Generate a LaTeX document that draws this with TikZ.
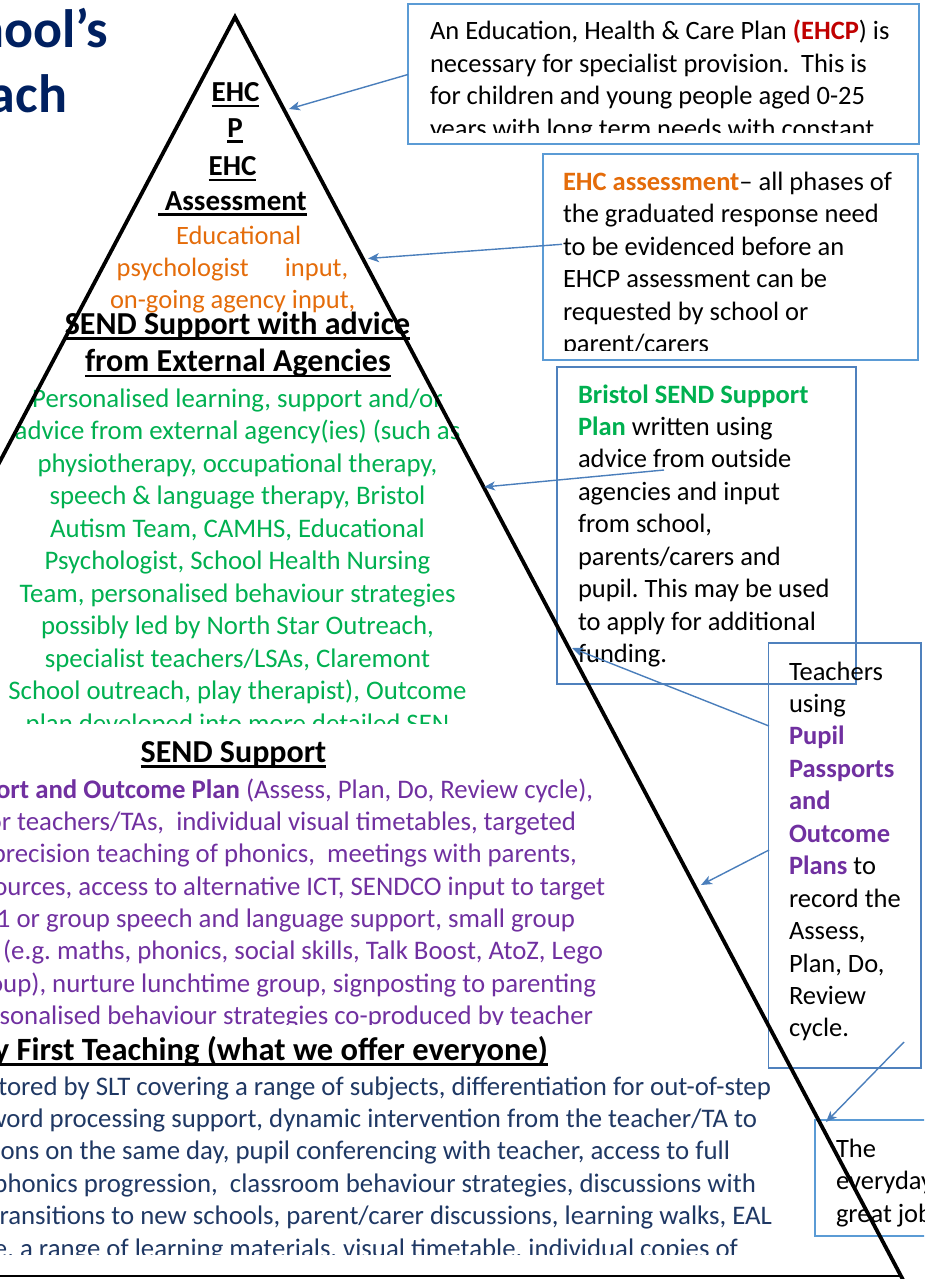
\documentclass[tikz,border=0pt]{standalone}
\usepackage{fontspec}
\setmainfont{Carlito}
\usetikzlibrary{arrows.meta}
\definecolor{navy}{HTML}{002060}
\definecolor{bodyblue}{HTML}{1F3864}
\definecolor{sgreen}{HTML}{00B050}
\definecolor{sorange}{HTML}{E46C0A}
\definecolor{spurple}{HTML}{7030A0}
\definecolor{sred}{HTML}{C00000}
\definecolor{boxblue}{HTML}{5B9BD5}
\definecolor{boxbluedk}{HTML}{4F81BD}
\definecolor{arrowblue}{HTML}{4A7EBB}
\newcommand\ulx[1]{\setbox0\hbox{#1}\rlap{\rule[-5.5pt]{\wd0}{2.4pt}}\box0}
\frenchspacing
\begin{document}
\begin{tikzpicture}[x=1pt,y=-1pt,
  txt/.style={inner sep=0pt,outer sep=0pt,font=\fontsize{26.5}{32.5}\selectfont},
  txtt/.style={inner sep=0pt,outer sep=0pt,font=\fontsize{26.8}{32.5}\selectfont},
  headbig/.style={inner sep=0pt,outer sep=0pt,font=\fontsize{32}{39}\selectfont\bfseries},
  headsm/.style={inner sep=0pt,outer sep=0pt,font=\fontsize{29}{35}\selectfont\bfseries},
  titletxt/.style={inner sep=0pt,outer sep=0pt,font=\fontsize{54}{64}\selectfont\bfseries,text=navy},
  tbox/.style={draw=boxblue,line width=1.6pt,inner sep=0pt,outer sep=0pt,anchor=north west},
  tboxdk/.style={draw=boxbluedk,line width=1.6pt,inner sep=0pt,outer sep=0pt,anchor=north west},
  conn/.style={draw=arrowblue,line width=1.4pt,-{Stealth[length=11pt,width=9pt,inset=3pt]}},
  pyr/.style={line width=3.8pt,line join=miter,line cap=butt}]
\useasboundingbox (0,0) rectangle (924,1279);
\clip (0,0) rectangle (924,1279);

% title fragments
\node[titletxt,anchor=base east] (t1) at (108,48) {School’s};
\node[titletxt,anchor=base east] (t2) at (67,113) {Approach};

% apex headings
\node[headsm,anchor=base] (h1) at (235.5,101.7) {\ulx{EHC}};
\node[headsm,anchor=base] (h2) at (235,137) {\ulx{P}};
\node[headsm,anchor=base] (h3) at (232.5,175.7) {\ulx{EHC}};
\node[headsm,anchor=base] (h4) at (232.5,210) {\ulx{\ Assessment}};

% orange text
\node[txt,text=sorange,anchor=base west] (o1) at (176,244) {Educational};
\node[txt,text=sorange,anchor=base west] (o2) at (116.7,276.7) {\hbox to 231.6pt{psychologist\hfill input,}};
\node[txt,text=sorange,anchor=base west] (o3) at (110,308.3) {on-going agency input,};

% SEND support with advice
\node[headbig,anchor=base] (s1) at (237.5,334) {\ulx{SEND Support with advice}};
\node[headbig,anchor=base] (s2) at (238,371.7) {\ulx{from External Agencies}};

\begin{scope}
\clip (0,380) rectangle (520,723);
\foreach \t [count=\i from 0] in {{Personalised learning, support and/or},{advice from external agency(ies) (such as},{physiotherapy, occupational therapy,},{speech \& language therapy, Bristol},{Autism Team, CAMHS, Educational},{Psychologist, School Health Nursing},{Team, personalised behaviour strategies},{possibly led by North Star Outreach,},{specialist teachers/LSAs, Claremont},{School outreach, play therapist), Outcome},{plan developed into more detailed SEN}}
  \node[txtt,text=sgreen,anchor=base] (g\i) at (237.5,{407+32.5*\i}) {\t};
\end{scope}

% SEND support
\node[headbig,anchor=base] (s3) at (233.5,762) {\ulx{SEND Support}};
\begin{scope}
\clip (0,770) rectangle (650,1024);
\node[txtt,text=spurple,anchor=base east] (p1) at (593,798) {\textbf{Pupil Passport and Outcome Plan} (Assess, Plan, Do, Review cycle),};
\node[txtt,text=spurple,anchor=base east] (p2) at (576,830.4) {for teachers/TAs,\ \ individual visual timetables, targeted};
\node[txtt,text=spurple,anchor=base east] (p3) at (577,862.7) {precision teaching of phonics,\ \ meetings with parents,};
\node[txtt,text=spurple,anchor=base east] (p4) at (605,895) {resources, access to alternative ICT, SENDCO input to target};
\node[txtt,text=spurple,anchor=base east] (p5) at (575,927.4) {\hspace*{20pt}1 or group speech and language support, small group};
\node[txtt,text=spurple,anchor=base east] (p6) at (603,959.8) {intervention (e.g. maths, phonics, social skills, Talk Boost, AtoZ, Lego};
\node[txtt,text=spurple,anchor=base east] (p7) at (596,992.1) {group), nurture lunchtime group, signposting to parenting};
\node[txtt,text=spurple,anchor=base east] (p8) at (593,1024.5) {personalised behaviour strategies co-produced by teacher};
\end{scope}

% Quality first teaching
\node[headbig,font=\fontsize{32.5}{39}\selectfont\bfseries,anchor=base east] (q0) at (548,1060) {\ulx{Quality First Teaching (what we offer everyone)}};
\begin{scope}
\clip (0,1070) rectangle (800,1254);
\node[txtt,text=bodyblue,anchor=base east] (q1) at (771,1095) {monitored by SLT covering a range of subjects, differentiation for out-of-step};
\node[txtt,text=bodyblue,anchor=base east] (q2) at (757,1127.4) {word processing support, dynamic intervention from the teacher/TA to};
\node[txtt,text=bodyblue,anchor=base east] (q3) at (730,1159.8) {sessions on the same day, pupil conferencing with teacher, access to full};
\node[txtt,text=bodyblue,anchor=base east] (q4) at (756,1192.2) {phonics progression,\ \ classroom behaviour strategies, discussions with};
\node[txtt,text=bodyblue,anchor=base east] (q5) at (772,1224.6) {transitions to new schools, parent/carer discussions, learning walks, EAL};
\node[txtt,text=bodyblue,anchor=base east] (q6) at (738,1257) {provide, a range of learning materials, visual timetable, individual copies of};
\end{scope}

% Box 1
\node[tbox,minimum width=511pt,minimum height=140pt] (b1) at (408,4) {};
\begin{scope}
\clip (409,5) rectangle (918,133);
\node[txt,anchor=base west] (b1l1) at (430,40) {An Education, Health \& Care Plan \textcolor{sred}{\textbf{(EHCP}}) is};
\node[txt,anchor=base west] (b1l2) at (430,72.5) {necessary for specialist provision.\ \ This is};
\node[txt,anchor=base west] (b1l3) at (430,105) {for children and young people aged 0-25};
\node[txt,anchor=base west] (b1l4) at (430,137.5) {years with long term needs with constant};
\end{scope}

% Box 2
\node[tbox,minimum width=375pt,minimum height=206pt] (b2) at (543,154) {};
\begin{scope}
\clip (544,155) rectangle (917,350);
\node[txt,anchor=base west] (b2l1) at (563,190) {\textcolor{sorange}{\textbf{EHC assessment}}– all phases of};
\node[txt,anchor=base west] (b2l2) at (563,222.5) {the graduated response need};
\node[txt,anchor=base west] (b2l3) at (563,255) {to be evidenced before an};
\node[txt,anchor=base west] (b2l4) at (563,287.5) {EHCP assessment can be};
\node[txt,anchor=base west] (b2l5) at (563,320) {requested by school or};
\node[txt,anchor=base west] (b2l6) at (563,352.5) {parent/carers};
\end{scope}

% Box 3
\node[tboxdk,minimum width=299pt,minimum height=317pt] (b3) at (557,367) {};
\foreach \t [count=\i from 0] in {{\textcolor{sgreen}{\textbf{Bristol SEND Support}}},{\textcolor{sgreen}{\textbf{Plan}} written using},{advice from outside},{agencies and input},{from school,},{parents/carers and},{pupil. This may be used},{to apply for additional},{funding.}}
  \node[txt,anchor=base west] (b3l\i) at (578,{403+32.46*\i}) {\t};

% Box 4
\node[tboxdk,minimum width=152.5pt,minimum height=425pt] (b4) at (768.5,643) {};
\foreach \t [count=\i from 0] in {{Teachers},{using},{\textcolor{spurple}{\textbf{Pupil}}},{\textcolor{spurple}{\textbf{Passports}}},{\textcolor{spurple}{\textbf{and}}},{\textcolor{spurple}{\textbf{Outcome}}},{\textcolor{spurple}{\textbf{Plans}} to},{record the},{Assess,},{Plan, Do,},{Review},{cycle.}}
  \node[txt,anchor=base west] (b4l\i) at (789,{680+32.45*\i}) {\t};

% Box 5
\node[tbox,minimum width=150pt,minimum height=116pt] (b5) at (815,1120) {};
\node[txt,anchor=base west] (b5l1) at (836,1157) {The};
\node[txt,anchor=base west] (b5l2) at (836,1189.5) {everyday};
\node[txt,anchor=base west] (b5l3) at (836,1222) {great job};

% connector end points
\coordinate (a1s) at (408,74.5);   \coordinate (a1e) at (289,109);
\coordinate (a2s) at (562,244.3);  \coordinate (a2e) at (368,258.5);
\coordinate (a3s) at (664,470);    \coordinate (a3e) at (484,487);
\coordinate (a4s) at (769,726);    \coordinate (a4e) at (572,648);
\coordinate (a5s) at (769,850);    \coordinate (a5e) at (701,885);
\coordinate (a6s) at (904,1042);   \coordinate (a6e) at (826,1122);

% pyramid
\coordinate (pl) at (-100,650.3);
\coordinate (pa) at (235,17);
\coordinate (pr) at (915,1302.5);
\coordinate (bl) at (-5,1276);
\coordinate (br) at (901,1276);
\draw[pyr] (pl) -- (pa) -- (pr);
\draw[line width=2pt] (bl) -- (br);

\draw[conn] (a1s) -- (a1e);
\draw[conn] (a2s) -- (a2e);
\draw[conn] (a3s) -- (a3e);
\draw[conn] (a4s) -- (a4e);
\draw[conn] (a5s) -- (a5e);
\draw[conn] (a6s) -- (a6e);
\end{tikzpicture}
\end{document}
